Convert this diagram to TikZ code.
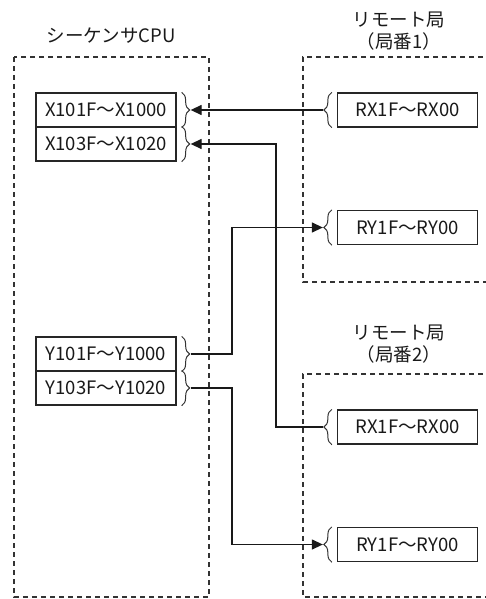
\documentclass[tikz,border=0pt]{standalone}
\usepackage{fontspec}
\setmainfont{Noto Sans CJK JP}
\usetikzlibrary{arrows.meta,decorations.pathreplacing}
\begin{document}
\begin{tikzpicture}[x=1pt, y=-1pt,
  every node/.style={text=black!90, font=\fontsize{18.5}{22}\selectfont},
  regbox/.style={draw=black!85, line width=1.3pt, minimum width=140pt, minimum height=34pt, inner sep=0pt},
  station/.style={draw=black!80, line width=1.2pt, dash pattern=on 5pt off 4pt},
  regbrace/.style={draw=black!80, line width=1pt, decorate, decoration={brace, amplitude=8pt}},
  link/.style={draw=black!90, line width=1.3pt},
  tip/.style={-{Triangle[length=11pt,width=10pt]}}]
  \useasboundingbox (0,0) rectangle (486,599);
  % Stations (dashed frames)
  \draw[station] (14,57) rectangle (209,597);
  \draw[station] (492,57) -- (303,57) -- (303,282) -- (492,282);
  \draw[station] (492,374) -- (303,374) -- (303,597) -- (492,597);
  % Titles
  \node (cpulbl) at (111,36) {シーケンサCPU};
  \node[align=center] (st1lbl) at (399,31) {リモート局\\（局番1）};
  \node[align=center] (st2lbl) at (399,344) {リモート局\\（局番2）};
  % Devices of the CPU
  \node[regbox] (x101) at (106,110) {X101F～X1000};
  \node[regbox] (x103) at (106,144) {X103F～X1020};
  \node[regbox] (y101) at (106,354) {Y101F～Y1000};
  \node[regbox] (y103) at (106,388) {Y103F～Y1020};
  % Devices of the remote stations
  \node[regbox] (rx1) at (407.5,110) {RX1F～RX00};
  \node[regbox] (ry1) at (407.5,227.5) {RY1F～RY00};
  \node[regbox] (rx2) at (407.5,427) {RX1F～RX00};
  \node[regbox] (ry2) at (407.5,544.5) {RY1F～RY00};
  % Braces and their tips
  \foreach \b in {x101,x103,y101,y103} {
    \draw[regbrace] ([xshift=5pt]\b.north east) -- ([xshift=5pt]\b.south east);
    \coordinate (\b t) at ([xshift=14pt]\b.east);
  }
  \foreach \b in {rx1,ry1,rx2,ry2} {
    \draw[regbrace] ([xshift=-5pt]\b.south west) -- ([xshift=-5pt]\b.north west);
    \coordinate (\b t) at ([xshift=-14pt]\b.west);
  }
  % Vertical runs of the links
  \coordinate (xbus) at (276,0);
  \coordinate (ybus) at (232,0);
  % Links
  \draw[link, tip] (rx1t) -- (x101t);
  \draw[link, tip] (rx2t) -- (rx2t -| xbus) -- (x103t -| xbus) -- (x103t);
  \draw[link, tip] (y101t) -- (y101t -| ybus) -- (ry1t -| ybus) -- (ry1t);
  \draw[link, tip] (y103t) -- (y103t -| ybus) -- (ry2t -| ybus) -- (ry2t);
\end{tikzpicture}
\end{document}
